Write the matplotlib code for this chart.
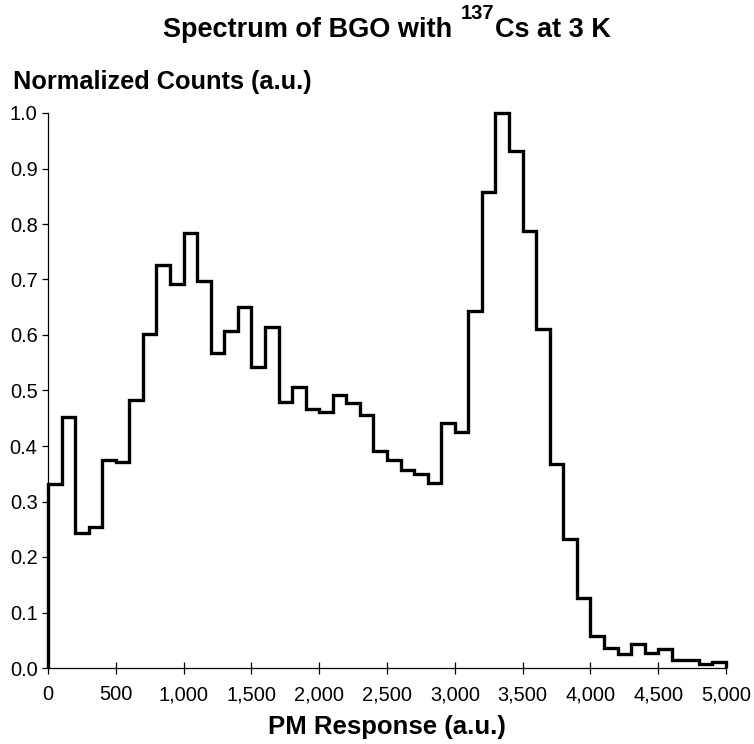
import matplotlib
matplotlib.use("Agg")
import matplotlib.pyplot as plt
import numpy as np
from matplotlib.ticker import FuncFormatter, MultipleLocator

plt.rcParams['font.family'] = ['Liberation Sans', 'DejaVu Sans']

# --- histogram data (bin width 100, 0 to 5000)
bin_edges = np.arange(0, 5001, 100)
counts = [0.332, 0.452, 0.244, 0.254, 0.374, 0.371, 0.483, 0.602, 0.726, 0.692,
          0.783, 0.697, 0.568, 0.607, 0.650, 0.542, 0.615, 0.479, 0.507, 0.466,
          0.461, 0.492, 0.477, 0.455, 0.391, 0.374, 0.356, 0.349, 0.334, 0.441,
          0.426, 0.643, 0.857, 1.000, 0.932, 0.787, 0.610, 0.368, 0.232, 0.127,
          0.057, 0.036, 0.025, 0.043, 0.027, 0.034, 0.014, 0.014, 0.008, 0.011]

W, H = 754, 744
fig = plt.figure(figsize=(W / 100, H / 100), dpi=100)
ax = fig.add_axes([48/W, 76/H, 678/W, 555/H])

ax.stairs(counts, bin_edges, baseline=0, color='black', linewidth=2.4, clip_on=False)

ax.set_xlim(0, 5000)
ax.set_ylim(0, 1.0)
ax.xaxis.set_major_locator(MultipleLocator(500))
ax.yaxis.set_major_locator(MultipleLocator(0.1))
ax.xaxis.set_major_formatter(FuncFormatter(lambda v, p: '{:,.0f}'.format(v)))
ax.yaxis.set_major_formatter(FuncFormatter(lambda v, p: '{:.1f}'.format(v)))

ax.spines['top'].set_visible(False)
ax.spines['right'].set_visible(False)
ax.spines['left'].set_linewidth(0.9)
ax.spines['bottom'].set_linewidth(0.9)
ax.tick_params(axis='x', direction='inout', length=9, width=0.9, labelsize=14.4, pad=8)
ax.tick_params(axis='y', direction='out', length=4.5, width=0.9, labelsize=14.4, pad=3)

fig.text(387/W, 1 - 734/H, 'PM Response (a.u.)', fontsize=18.5, fontweight='bold',
         ha='center', va='baseline')
fig.text(13/W, 1 - 89/H, 'Normalized Counts (a.u.)', fontsize=18.3, fontweight='bold',
         ha='left', va='baseline')

# title in pieces so the superscript sits high like the original
parts = [('Spectrum of BGO with', 19.5, 37), ('137', 14.5, 19), ('Cs at 3 K', 19.5, 37)]
gaps = [9, 1]
texts = [fig.text(0, 1 - base/H, s, fontsize=fs, fontweight='bold', ha='left', va='baseline')
         for s, fs, base in parts]
fig.canvas.draw()
rend = fig.canvas.get_renderer()
widths = [t.get_window_extent(rend).width for t in texts]
x = 387 - (sum(widths) + sum(gaps)) / 2
for i, t in enumerate(texts):
    t.set_x(x / W)
    x += widths[i] + (gaps[i] if i < len(gaps) else 0)

fig.savefig('out.png', dpi=100)
